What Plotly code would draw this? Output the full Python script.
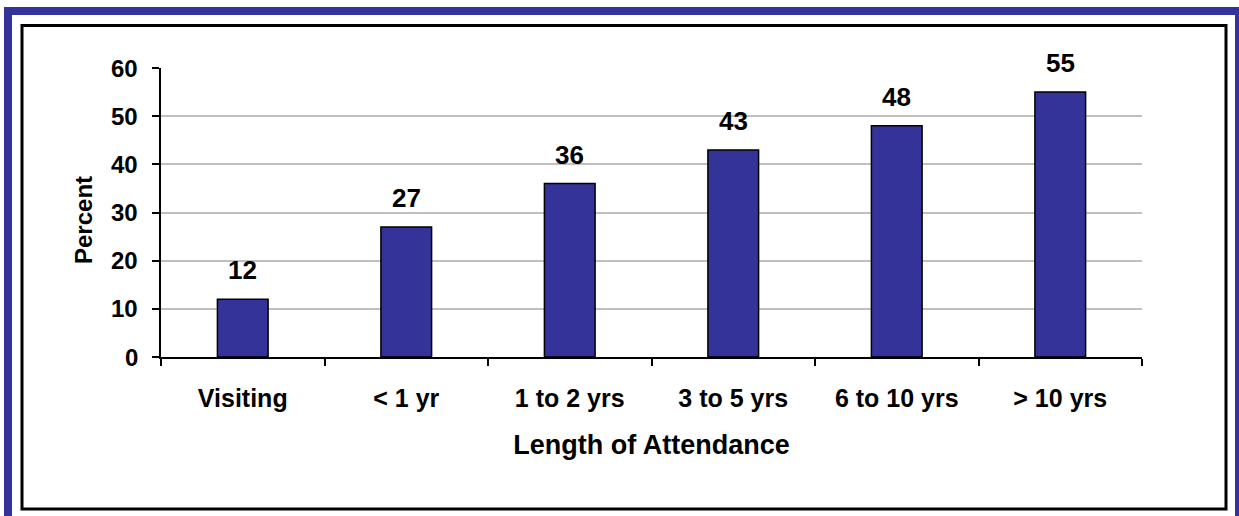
import plotly.graph_objects as go

categories = ["Visiting", "< 1 yr", "1 to 2 yrs", "3 to 5 yrs", "6 to 10 yrs", "> 10 yrs"]
percent = [12, 27, 36, 43, 48, 55]
y_ticks = [0, 10, 20, 30, 40, 50, 60]

W, H = 1239, 516
L, R, T, B = 161, 1142, 68, 357
FONT = "Liberation Sans, Arial, sans-serif"
BAR = "#333399"


def px_x(px):
    return (px - L) / (R - L)


def px_y(py):
    return (B - py) / (B - T)


fig = go.Figure()

fig.add_trace(
    go.Bar(
        x=categories,
        y=percent,
        width=0.31,
        marker={"color": BAR, "line": {"color": "black", "width": 1.5}},
        hoverinfo="x+y",
    )
)

for cat, val in zip(categories, percent):
    fig.add_annotation(
        x=cat,
        y=val,
        text=str(val),
        showarrow=False,
        yanchor="bottom",
        yshift=12,
        font={"family": FONT, "size": 26, "color": "black", "weight": "bold"},
    )

# y tick labels drawn as annotations to get the wider gap to the ticks
for tick in y_ticks:
    fig.add_annotation(
        xref="paper", yref="y",
        x=px_x(140), y=tick,
        xanchor="right", yanchor="middle",
        text=str(tick),
        showarrow=False,
        font={"family": FONT, "size": 24, "color": "black", "weight": "bold"},
    )

# y title as annotation so it can sit a bit below the plot centre
fig.add_annotation(
    xref="paper", yref="paper",
    x=px_x(83), y=px_y(220),
    xanchor="center", yanchor="middle",
    text="Percent",
    textangle=-90,
    showarrow=False,
    font={"family": FONT, "size": 24, "color": "black", "weight": "bold"},
)

# outer blue frame and inner black frame
fig.add_shape(
    type="rect", xref="paper", yref="paper",
    x0=px_x(8), x1=px_x(1239), y0=px_y(540), y1=px_y(11),
    line={"color": BAR, "width": 8}, layer="below",
)
fig.add_shape(
    type="rect", xref="paper", yref="paper",
    x0=px_x(22), x1=px_x(1226), y0=px_y(509), y1=px_y(25.5),
    line={"color": "black", "width": 3}, layer="below",
)

fig.update_layout(
    width=W,
    height=H,
    margin={"l": L, "r": W - R, "t": T, "b": H - B, "pad": 0},
    paper_bgcolor="white",
    plot_bgcolor="white",
    showlegend=False,
    bargap=0.69,
    font={"family": FONT, "color": "black"},
)

fig.update_xaxes(
    showline=True,
    linecolor="black",
    linewidth=2,
    ticks="outside",
    tickson="boundaries",
    ticklen=7,
    tickwidth=2,
    tickcolor="black",
    ticklabelstandoff=18,
    tickfont={"family": FONT, "size": 25, "weight": "bold"},
    title={
        "text": "Length of Attendance",
        "font": {"family": FONT, "size": 27, "weight": "bold"},
        "standoff": 24,
    },
    showgrid=False,
)

fig.update_yaxes(
    range=[0, 60],
    tickvals=y_ticks,
    showticklabels=False,
    showline=True,
    linecolor="black",
    linewidth=2,
    ticks="outside",
    ticklen=7,
    tickwidth=2,
    tickcolor="black",
    showgrid=True,
    gridcolor="#c0c0c0",
    gridwidth=2,
    zeroline=False,
)

fig.write_html(
    "out.html",
    config={"displayModeBar": False},
    post_script="document.body.style.margin='0';",
)
